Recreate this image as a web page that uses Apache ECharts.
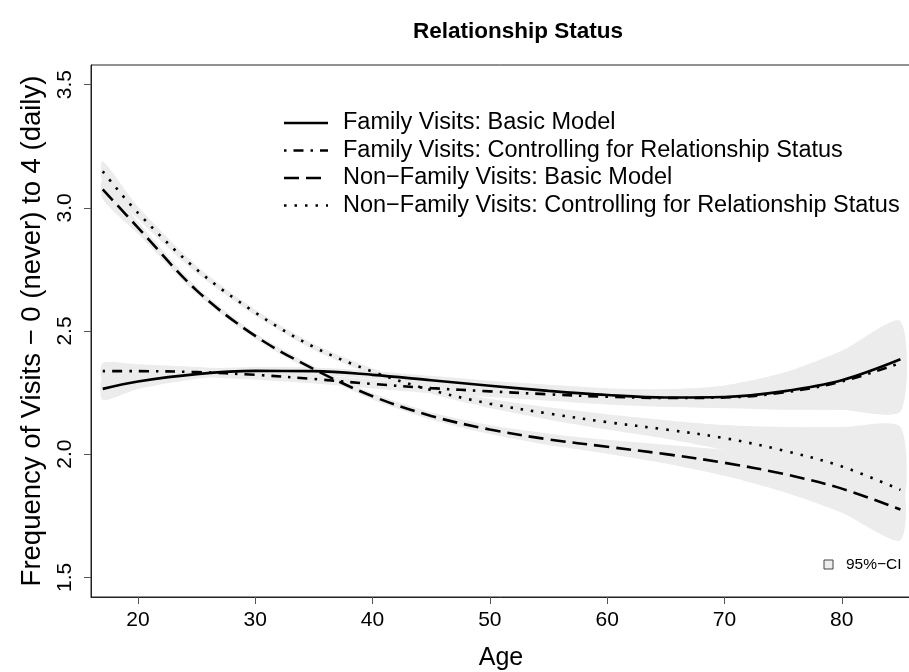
<!DOCTYPE html>
<html><head><meta charset="utf-8">
<script src="https://cdn.jsdelivr.net/npm/echarts@6/dist/echarts.min.js"></script>
<style>html,body{margin:0;padding:0;background:#fff}#c{width:909px;height:672px}</style>
</head><body><div id="c"></div>
<script>
// ---- data ----
const ages = [17, 20, 25, 30, 35, 40, 45, 50, 55, 60, 65, 70, 75, 80, 85];
const famBasic   = [2.265, 2.295, 2.325, 2.338, 2.337, 2.322, 2.300, 2.278, 2.257, 2.240, 2.230, 2.232, 2.255, 2.300, 2.385];
const famCtrl    = [2.337, 2.337, 2.333, 2.322, 2.305, 2.285, 2.268, 2.255, 2.243, 2.233, 2.228, 2.230, 2.250, 2.295, 2.370];
const nonBasic   = [3.075, 2.920, 2.665, 2.480, 2.345, 2.235, 2.155, 2.100, 2.060, 2.030, 2.000, 1.965, 1.920, 1.860, 1.775];
const nonCtrl    = [3.148, 2.980, 2.750, 2.575, 2.435, 2.335, 2.260, 2.205, 2.165, 2.130, 2.100, 2.065, 2.015, 1.950, 1.855];
// 95% CI bounds
const famBasicLo = [2.220, 2.265, 2.305, 2.322, 2.322, 2.305, 2.282, 2.258, 2.232, 2.212, 2.197, 2.187, 2.185, 2.180, 2.175];
const famBasicHi = [2.310, 2.325, 2.345, 2.354, 2.352, 2.338, 2.318, 2.298, 2.282, 2.268, 2.263, 2.278, 2.330, 2.420, 2.540];
const famCtrlLo  = [2.300, 2.305, 2.312, 2.302, 2.287, 2.267, 2.248, 2.232, 2.217, 2.202, 2.192, 2.186, 2.180, 2.180, 2.175];
const famCtrlHi  = [2.370, 2.365, 2.354, 2.342, 2.323, 2.303, 2.288, 2.278, 2.268, 2.263, 2.263, 2.278, 2.328, 2.408, 2.520];
const nonBasicLo = [3.035, 2.895, 2.650, 2.468, 2.333, 2.222, 2.140, 2.082, 2.037, 2.002, 1.962, 1.912, 1.847, 1.762, 1.650];
const nonBasicHi = [3.115, 2.945, 2.680, 2.492, 2.357, 2.248, 2.170, 2.118, 2.083, 2.058, 2.038, 2.018, 1.998, 1.968, 1.910];
const nonCtrlLo  = [3.105, 2.955, 2.735, 2.563, 2.423, 2.322, 2.245, 2.187, 2.140, 2.100, 2.063, 2.017, 1.957, 1.877, 1.770];
const nonCtrlHi  = [3.190, 3.005, 2.765, 2.587, 2.447, 2.348, 2.275, 2.225, 2.190, 2.162, 2.138, 2.118, 2.110, 2.110, 2.110];

const xTicks = [20, 30, 40, 50, 60, 70, 80];
const yTicks = [1.5, 2.0, 2.5, 3.0, 3.5];
const seriesNames = [
  'Family Visits: Basic Model',
  'Family Visits: Controlling for Relationship Status',
  'Non\u2212Family Visits: Basic Model',
  'Non\u2212Family Visits: Controlling for Relationship Status'
];
const titleText = 'Relationship Status';
const xName = 'Age';
const yName = 'Frequency of Visits \u2212 0 (never) to 4 (daily)';
const ciLabel = '95%\u2212CI';

// ---- styles ----
const FONT = 'Liberation Sans, Arial, Helvetica, sans-serif';
const dashes = ['solid', [2.5, 7, 10, 7], [15, 7], [2.5, 8]];
const bandColor = '#ececec';

function pairs(xs, ys) { return xs.map((x, i) => [x, ys[i]]); }

function bandSeries(lo, hi) {
  return {
    type: 'custom', coordinateSystem: 'cartesian2d', clip: true, silent: true, z: 1,
    data: ages.map((a, i) => [a, lo[i], hi[i]]),
    encode: { x: 0, y: [1, 2] },
    renderItem: function (params, api) {
      if (params.dataIndex !== 0) return null;
      const upper = ages.map((a, i) => api.coord([a, hi[i]]));
      const lower = ages.map((a, i) => api.coord([a, lo[i]])).reverse();
      return {
        type: 'polygon',
        shape: { points: upper.concat(lower), smooth: 0.25 },
        style: { fill: bandColor, stroke: null }
      };
    }
  };
}

const lineData = [famBasic, famCtrl, nonBasic, nonCtrl];
const lineSeries = lineData.map((vals, k) => ({
  type: 'line', name: seriesNames[k], data: pairs(ages, vals),
  smooth: 0.35, symbol: 'none', z: 5, silent: true,
  lineStyle: { color: '#000', width: 2.6, type: dashes[k], cap: 'butt' }
}));

const legendGraphics = [];
seriesNames.forEach((name, k) => {
  const y = 123 + 27.5 * k;
  legendGraphics.push({
    type: 'line', shape: { x1: 284, y1: y, x2: 328, y2: y },
    style: { stroke: '#000', lineWidth: 2.6, lineDash: dashes[k] === 'solid' ? null : dashes[k] }
  });
  legendGraphics.push({
    type: 'text', x: 343, y: y,
    style: { text: name, font: '23.5px ' + FONT, fill: '#000', align: 'left', verticalAlign: 'middle' }
  });
});

const chart = echarts.init(document.getElementById('c'), null, { renderer: 'canvas' });
chart.setOption({
  animation: false,
  backgroundColor: '#fff',
  grid: { left: 91, top: 65, width: 820, height: 532, show: true, borderColor: '#222', borderWidth: 1,
    containLabel: false, outerBoundsMode: 'none' },
  xAxis: {
    type: 'value', min: 16, max: 85.9, name: xName, nameLocation: 'middle', nameGap: 49,
    nameTextStyle: { fontSize: 25, fontFamily: FONT, color: '#000' },
    axisLine: { show: true, onZero: false, lineStyle: { color: '#222', width: 1 } },
    axisTick: { show: true, inside: false, length: 7, customValues: xTicks, lineStyle: { color: '#555' } },
    axisLabel: { customValues: xTicks, margin: 13, fontSize: 21, fontFamily: FONT, color: '#000' },
    splitLine: { show: false }
  },
  yAxis: {
    type: 'value', min: 1.42, max: 3.58, name: yName, nameLocation: 'middle', nameGap: 45,
    nameTextStyle: { fontSize: 27.5, fontFamily: FONT, color: '#000' },
    axisLine: { show: true, onZero: false, lineStyle: { color: '#222', width: 1 } },
    axisTick: { show: true, inside: false, length: 7, customValues: yTicks, lineStyle: { color: '#555' } },
    axisLabel: { customValues: yTicks, rotate: 90, margin: 15, fontSize: 21, fontFamily: FONT, color: '#000',
      formatter: v => Number(v).toFixed(1) },
    splitLine: { show: false }
  },
  graphic: [
    { type: 'text', x: 518, y: 32, style: { text: titleText, font: 'bold 22.5px ' + FONT, fill: '#000', align: 'center', verticalAlign: 'middle' } },
    { type: 'rect', shape: { x: 824, y: 560, width: 9, height: 9 }, style: { fill: '#eeeeee', stroke: '#444', lineWidth: 1 } },
    { type: 'text', x: 846, y: 565, style: { text: ciLabel, font: '15.5px ' + FONT, fill: '#000', align: 'left', verticalAlign: 'middle' } }
  ].concat(legendGraphics),
  series: [
    bandSeries(famBasicLo, famBasicHi),
    bandSeries(famCtrlLo, famCtrlHi),
    bandSeries(nonBasicLo, nonBasicHi),
    bandSeries(nonCtrlLo, nonCtrlHi)
  ].concat(lineSeries)
});
</script>
</body></html>
